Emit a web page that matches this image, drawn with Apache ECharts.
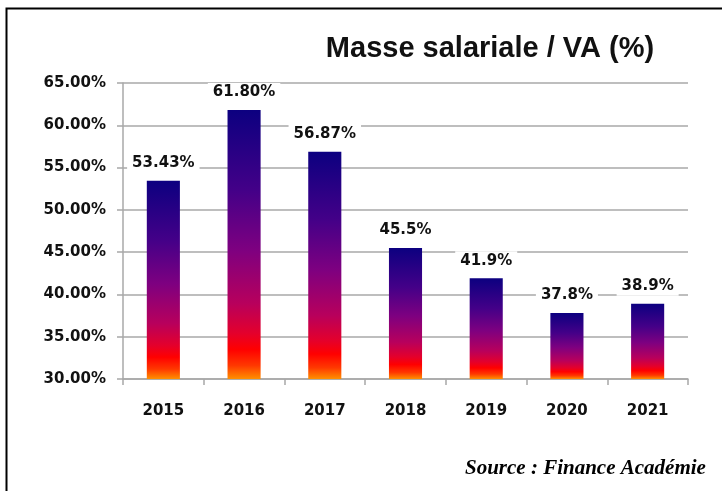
<!DOCTYPE html>
<html>
<head>
<meta charset="utf-8">
<script src="https://cdn.jsdelivr.net/npm/echarts@6/dist/echarts.min.js"></script>
<style>
  html, body { margin: 0; padding: 0; background: #fff; }
  #chart { width: 722px; height: 491px; }
</style>
</head>
<body>
<div id="chart"></div>
<script>
var years = ["2015", "2016", "2017", "2018", "2019", "2020", "2021"];
var ratios = [53.43, 61.80, 56.87, 45.5, 41.9, 37.8, 38.9];
var ratioLabels = ["53.43%", "61.80%", "56.87%", "45.5%", "41.9%", "37.8%", "38.9%"];

var myChart = echarts.init(document.getElementById("chart"));

// dégradé vertical propre à chaque barre (bleu nuit -> violet -> rouge -> orange)
var barGradient = new echarts.graphic.LinearGradient(0, 0, 0, 1, [
  { offset: 0, color: "#0c0080" },
  { offset: 0.3, color: "#440088" },
  { offset: 0.52, color: "#7e0080" },
  { offset: 0.72, color: "#b8005c" },
  { offset: 0.83, color: "#e4002c" },
  { offset: 0.89, color: "#ff0000" },
  { offset: 0.95, color: "#ff3800" },
  { offset: 1, color: "#ff9000" }
]);

var option = {
  animation: false,
  backgroundColor: "#fff",
  title: {
    text: "Masse salariale / VA (%)",
    left: 485,
    top: 29,
    textAlign: "center",
    textStyle: {
      fontFamily: "Liberation Sans",
      fontWeight: "bold",
      fontSize: 29,
      color: "#111"
    }
  },
  grid: {
    left: 123,
    right: 34,
    top: 83,
    height: 296
  },
  xAxis: {
    type: "category",
    data: years,
    axisLine: { lineStyle: { color: "#a8a8a8", width: 1.5 } },
    axisTick: { show: true, length: 6, lineStyle: { color: "#a8a8a8", width: 1.5 } },
    axisLabel: {
      margin: 25,
      fontFamily: "DejaVu Sans",
      fontWeight: "bold",
      fontSize: 15,
      color: "#111"
    }
  },
  yAxis: {
    type: "value",
    min: 30,
    max: 65,
    interval: 5,
    axisLine: { show: true, lineStyle: { color: "#a8a8a8", width: 1.5 } },
    axisTick: { show: true, length: 6, lineStyle: { color: "#a8a8a8", width: 1.5 } },
    splitLine: { lineStyle: { color: "#a8a8a8", width: 1.5 } },
    axisLabel: {
      margin: 17,
      formatter: function (v) { return v.toFixed(2) + "%"; },
      fontFamily: "DejaVu Sans",
      fontWeight: "bold",
      fontSize: 15,
      color: "#111"
    }
  },
  series: [
    {
      type: "bar",
      data: ratios,
      barWidth: "41%",
      itemStyle: { color: barGradient },
      label: {
        show: true,
        position: "top",
        distance: 8,
        formatter: function (p) { return ratioLabels[p.dataIndex]; },
        fontFamily: "DejaVu Sans",
        fontWeight: "bold",
        fontSize: 15,
        color: "#111",
        backgroundColor: "#fff",
        padding: [2, 5]
      }
    }
  ],
  graphic: [
    {
      type: "rect",
      shape: { x: 6.5, y: 8.5, width: 760, height: 520 },
      style: { fill: "none", stroke: "#000", lineWidth: 2 },
      silent: true
    },
    {
      type: "text",
      left: 465,
      top: 458,
      style: {
        text: "Source : Finance Académie",
        fontFamily: "Liberation Serif",
        fontStyle: "italic",
        fontWeight: "bold",
        fontSize: 21,
        fill: "#000"
      }
    }
  ]
};

myChart.setOption(option);
</script>
</body>
</html>
